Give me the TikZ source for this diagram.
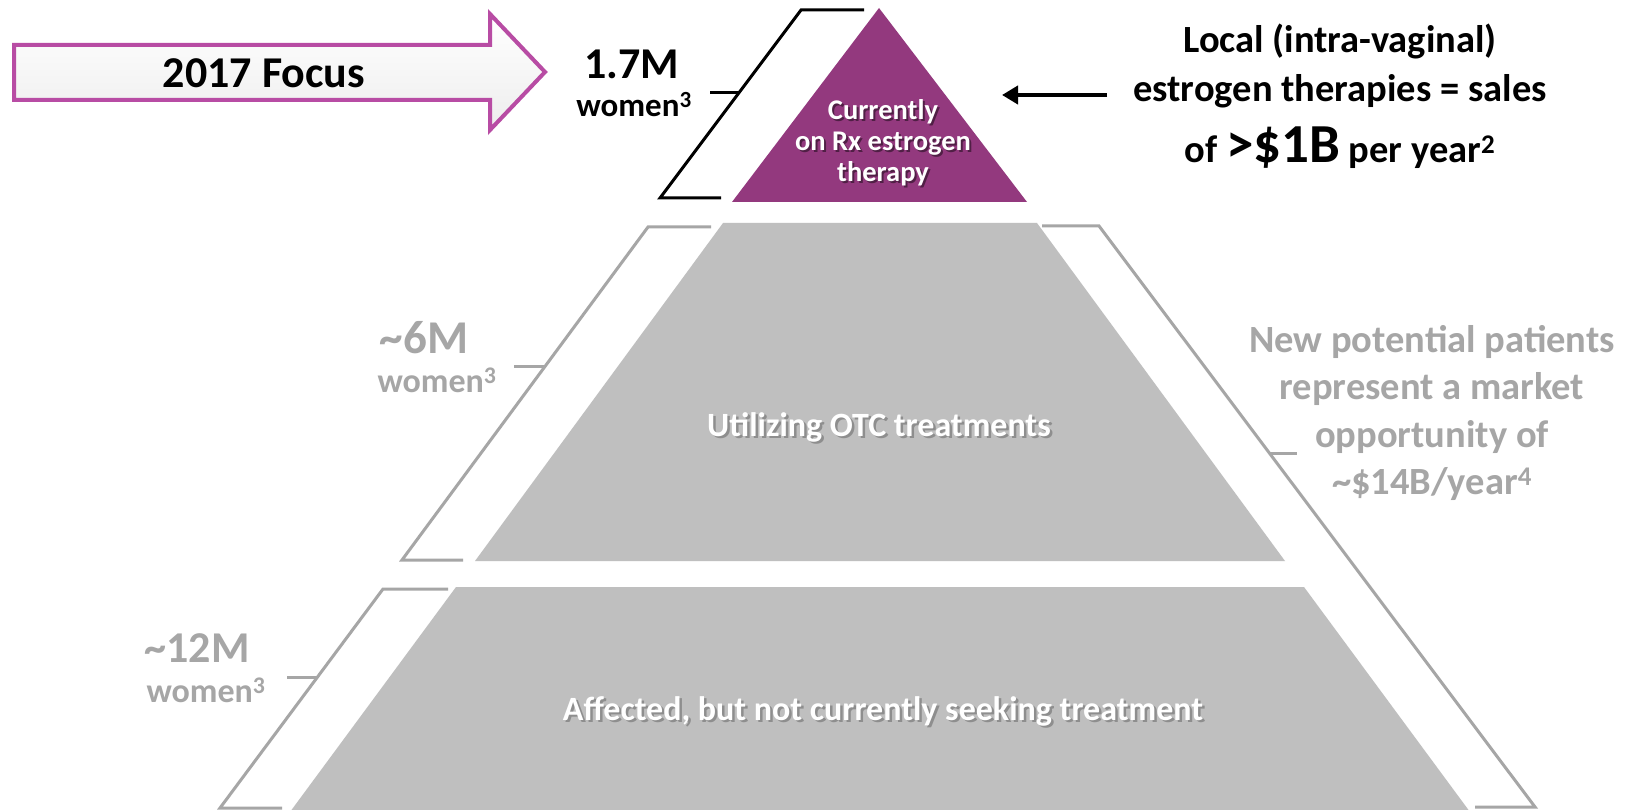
\documentclass[tikz,border=0pt]{standalone}
\usepackage{fontspec}
\setmainfont{Carlito}
\usetikzlibrary{arrows.meta}
\definecolor{pyrpurple}{RGB}{147,57,126}
\definecolor{pyrgray}{RGB}{191,191,191}
\definecolor{labgray}{RGB}{166,166,166}
\definecolor{arrowmag}{RGB}{184,76,164}
\definecolor{shadowgray}{RGB}{110,110,110}
\tikzset{
  layer/.style={fill=pyrgray, draw=none},
  blackbracket/.style={draw=black, line width=3pt, line join=miter},
  graybracket/.style={draw=labgray, line width=3pt, line join=miter},
  bigblack/.style={font=\bfseries\fontsize{44}{48}\selectfont, text=black, inner sep=0pt},
  smallblack/.style={font=\bfseries\fontsize{33}{38}\selectfont, text=black, inner sep=0pt},
  biggray/.style={font=\bfseries\fontsize{45}{48}\selectfont, text=labgray, inner sep=0pt},
  smallgray/.style={font=\bfseries\fontsize{34}{38}\selectfont, text=labgray, inner sep=0pt},
  layertext/.style={font=\bfseries\fontsize{34}{36}\selectfont, text=white, inner sep=0pt, align=center},
  layershadow/.style={font=\bfseries\fontsize{34}{36}\selectfont, text=shadowgray, opacity=0.6, inner sep=0pt, align=center},
  toptext/.style={font=\bfseries\fontsize{28.5}{31}\selectfont, text=white, inner sep=0pt, align=center},
  topshadow/.style={font=\bfseries\fontsize{28.5}{31}\selectfont, text=black, opacity=0.45, inner sep=0pt, align=center},
}
\begin{document}
\begin{tikzpicture}[x=1pt,y=-1pt]
\useasboundingbox (0,0) rectangle (1625,810);
\fill[white] (0,0) rectangle (1625,810);

% 2017 Focus arrow
\path[draw=arrowmag, line width=4pt, line join=miter, top color=white, bottom color=black!7]
  (14,45) -- (490,45) -- (490,14) -- (545,72) -- (490,130) -- (490,100) -- (14,100) -- cycle;
\node[bigblack] (focus) at (264,73) {2017 Focus};

% pyramid
\fill[pyrpurple] (879,8) -- (1027,202) -- (732,202) -- cycle;
\path[layer] (723,223) -- (1037,223) -- (1285,561) -- (475,561) -- cycle;
\path[layer] (456,587) -- (1304,587) -- (1470,812) -- (290,812) -- cycle;

% layer texts
\node[topshadow] (rxs) at (885,145) {Currently\\on Rx estrogen\\therapy};
\node[toptext] (rx) at (883,143) {Currently\\on Rx estrogen\\therapy};
\node[layershadow] (otcs) at (881.5,429.5) {Utilizing OTC treatments};
\node[layertext] (otc) at (879,427) {Utilizing OTC treatments};
\node[layershadow] (affs) at (885.5,713.5) {Affected, but not currently seeking treatment};
\node[layertext] (aff) at (883,711) {Affected, but not currently seeking treatment};

% black bracket (top)
\draw[blackbracket] (864,10) -- (801,10) -- (660,198) -- (721,198);
\coordinate (b1tick) at (739,93);
\coordinate (b1end) at (710,93);
\draw[blackbracket] (b1end) -- (b1tick);
\node[bigblack] (n17) at (632,64) {1.7M};
\node[smallblack] (w17) at (634,105) {women\textsuperscript{3}};

% gray bracket (middle)
\draw[graybracket] (711,227) -- (648,227) -- (402,560) -- (463,560);
\coordinate (b2tick) at (545,366);
\coordinate (b2end) at (514,366);
\draw[graybracket] (b2end) -- (b2tick);
\node[biggray, font=\bfseries\fontsize{47}{50}\selectfont] (n6) at (424,338) {\textasciitilde 6M};
\node[smallgray] (w6) at (437,380) {women\textsuperscript{3}};

% gray bracket (bottom)
\draw[graybracket] (448,589) -- (383,589) -- (220,808) -- (282,808);
\coordinate (b3tick) at (317,677);
\coordinate (b3end) at (287,677);
\draw[graybracket] (b3end) -- (b3tick);
\node[biggray, font=\bfseries\fontsize{44}{48}\selectfont] (n12) at (197,648) {\textasciitilde 12M};
\node[smallgray] (w12) at (206,690) {women\textsuperscript{3}};

% right gray bracket
\draw[graybracket] (1042,226) -- (1099,226) -- (1535,807) -- (1475,807);
\coordinate (b4tick) at (1269,453);
\coordinate (b4end) at (1297,453);
\draw[graybracket] (b4tick) -- (b4end);
\node[font=\bfseries\fontsize{38.5}{47.5}\selectfont, text=labgray, align=center, inner sep=0pt] (opp) at (1432,413)
  {New potential patients\\represent a market\\opportunity of\\\textasciitilde\$14B/year\textsuperscript{4}};

% right top text and arrow
\node[font=\bfseries\fontsize{38.5}{49}\selectfont, text=black, align=center, inner sep=0pt] (sales) at (1340,96)
  {Local (intra-vaginal)\\estrogen therapies = sales\\[12pt]of {\fontsize{55}{49}\selectfont >\$1B} per year\textsuperscript{2}};
\coordinate (arrstart) at (1107,95);
\coordinate (arrend) at (1002,95);
\draw[line width=4pt, -{Triangle[length=16pt,width=18pt]}] (arrstart) -- (arrend);
\end{tikzpicture}
\end{document}
